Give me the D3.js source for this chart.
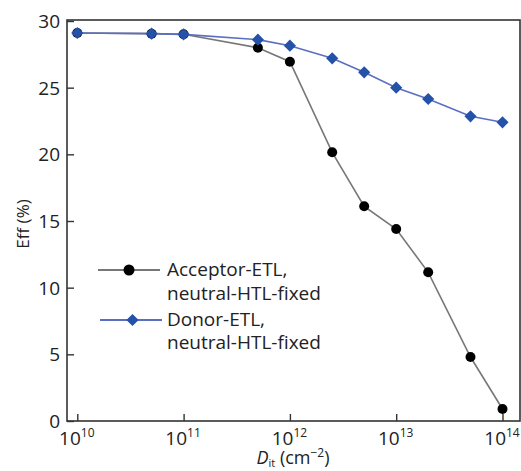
<!DOCTYPE html>
<html>
<head>
<meta charset="utf-8">
<script src="https://cdn.jsdelivr.net/npm/d3@7"></script>
<style>
  body { margin: 0; background: #fff; }
  text { font-family: "Open Sans", "Noto Sans", sans-serif; fill: #222; }
</style>
</head>
<body>
<svg width="521" height="471"></svg>
<script>
// data
var dit = [1e10, 5e10, 1e11, 5e11, 1e12, 2.5e12, 5e12, 1e13, 2e13, 5e13, 1e14];
var acceptorEff = [29.1, 29.05, 29.0, 28.0, 26.95, 20.15, 16.1, 14.4, 11.15, 4.8, 0.9];
var donorEff = [29.1, 29.05, 29.0, 28.6, 28.15, 27.2, 26.15, 25.0, 24.15, 22.85, 22.4];
var yTicks = [0, 5, 10, 15, 20, 25, 30];
var xTicks = [1e10, 1e11, 1e12, 1e13, 1e14];

var svg = d3.select('svg');

var frame = { left: 67, right: 520, top: 21, bottom: 421 };

var x = d3.scaleLog()
  .domain([1e10, 1e14])
  .range([77.3, 502.5]);

var y = d3.scaleLinear()
  .domain([0, 30])
  .range([frame.bottom, frame.top]);

// frame
svg.append('rect')
  .attr('x', frame.left)
  .attr('y', frame.top - 1)
  .attr('width', frame.right - frame.left)
  .attr('height', frame.bottom - frame.top + 1)
  .attr('fill', 'none')
  .attr('stroke', '#333')
  .attr('stroke-width', 1.6);

// y axis, ticks pointing inward
var yAxis = svg.append('g')
  .attr('transform', 'translate(' + frame.left + ',0)')
  .call(d3.axisRight(y).tickValues(yTicks).tickSize(7).tickFormat(''));
yAxis.select('.domain').remove();
yAxis.selectAll('line').attr('stroke', '#333').attr('stroke-width', 1.4);

svg.append('g').selectAll('text')
  .data(yTicks)
  .enter().append('text')
  .attr('x', frame.left - 7)
  .attr('y', function(d) { return y(d) + 7; })
  .attr('text-anchor', 'end')
  .attr('font-size', 19)
  .text(function(d) { return d; });

// x axis, ticks pointing up
var xAxis = svg.append('g')
  .attr('transform', 'translate(0,' + frame.bottom + ')')
  .call(d3.axisTop(x).tickValues(xTicks).tickSize(7).tickFormat(''));
xAxis.select('.domain').remove();
xAxis.selectAll('line').attr('stroke', '#333').attr('stroke-width', 1.4);

var xLab = svg.append('g').selectAll('text')
  .data(xTicks)
  .enter().append('text')
  .attr('x', function(d) { return x(d) - 0.5; })
  .attr('y', 445)
  .attr('text-anchor', 'middle')
  .attr('font-size', 19);
xLab.append('tspan').text('10');
xLab.append('tspan')
  .attr('dy', -8)
  .attr('font-size', 12)
  .text(function(d) { return Math.round(Math.log10(d)); });

// axis titles
svg.append('text')
  .attr('transform', 'translate(29,224) rotate(-90)')
  .attr('text-anchor', 'middle')
  .attr('font-size', 17)
  .text('Eff (%)');

var xt = svg.append('text')
  .attr('x', 293)
  .attr('y', 464)
  .attr('text-anchor', 'middle')
  .attr('font-size', 18);
xt.append('tspan').attr('font-style', 'italic').text('D');
xt.append('tspan').attr('font-size', 11).attr('dy', 3).text('it');
xt.append('tspan').attr('dy', -3).text(' (cm');
xt.append('tspan').attr('font-size', 12).attr('dy', -7).text('\u22122');
xt.append('tspan').attr('dy', 7).text(')');

// series
var line = d3.line()
  .x(function(d) { return x(d[0]); })
  .y(function(d) { return y(d[1]); });

var accPts = dit.map(function(d, i) { return [d, acceptorEff[i]]; });
var donPts = dit.map(function(d, i) { return [d, donorEff[i]]; });

var blackLine = '#777';
var blueLine = '#5b6fc2';
var blueMark = '#2452a8';
// square turned 45 degrees, as wide as it is tall
var diamond = d3.symbol().type(d3.symbolSquare).size(74);

svg.append('path')
  .datum(accPts)
  .attr('d', line)
  .attr('fill', 'none')
  .attr('stroke', blackLine)
  .attr('stroke-width', 1.6);

svg.append('g').selectAll('circle')
  .data(accPts)
  .enter().append('circle')
  .attr('cx', function(d) { return x(d[0]); })
  .attr('cy', function(d) { return y(d[1]); })
  .attr('r', 5)
  .attr('fill', '#000');

svg.append('path')
  .datum(donPts)
  .attr('d', line)
  .attr('fill', 'none')
  .attr('stroke', blueLine)
  .attr('stroke-width', 1.6);

svg.append('g').selectAll('path')
  .data(donPts)
  .enter().append('path')
  .attr('d', diamond)
  .attr('transform', function(d) { return 'translate(' + x(d[0]) + ',' + y(d[1]) + ') rotate(45)'; })
  .attr('fill', blueMark);

// legend
var legend = svg.append('g');
legend.append('line')
  .attr('x1', 98).attr('x2', 160).attr('y1', 270).attr('y2', 270)
  .attr('stroke', blackLine).attr('stroke-width', 2);
legend.append('circle')
  .attr('cx', 129).attr('cy', 270).attr('r', 5.5).attr('fill', '#000');
legend.append('text')
  .attr('x', 167).attr('y', 276).attr('font-size', 19)
  .text('Acceptor-ETL,');
legend.append('text')
  .attr('x', 167).attr('y', 300).attr('font-size', 19)
  .text('neutral-HTL-fixed');

legend.append('line')
  .attr('x1', 100).attr('x2', 162).attr('y1', 320).attr('y2', 320)
  .attr('stroke', blueLine).attr('stroke-width', 2);
legend.append('path')
  .attr('d', diamond)
  .attr('transform', 'translate(132.5,320) rotate(45)')
  .attr('fill', blueMark);
legend.append('text')
  .attr('x', 167).attr('y', 326).attr('font-size', 19)
  .text('Donor-ETL,');
legend.append('text')
  .attr('x', 167).attr('y', 349).attr('font-size', 19)
  .text('neutral-HTL-fixed');
</script>
</body>
</html>
